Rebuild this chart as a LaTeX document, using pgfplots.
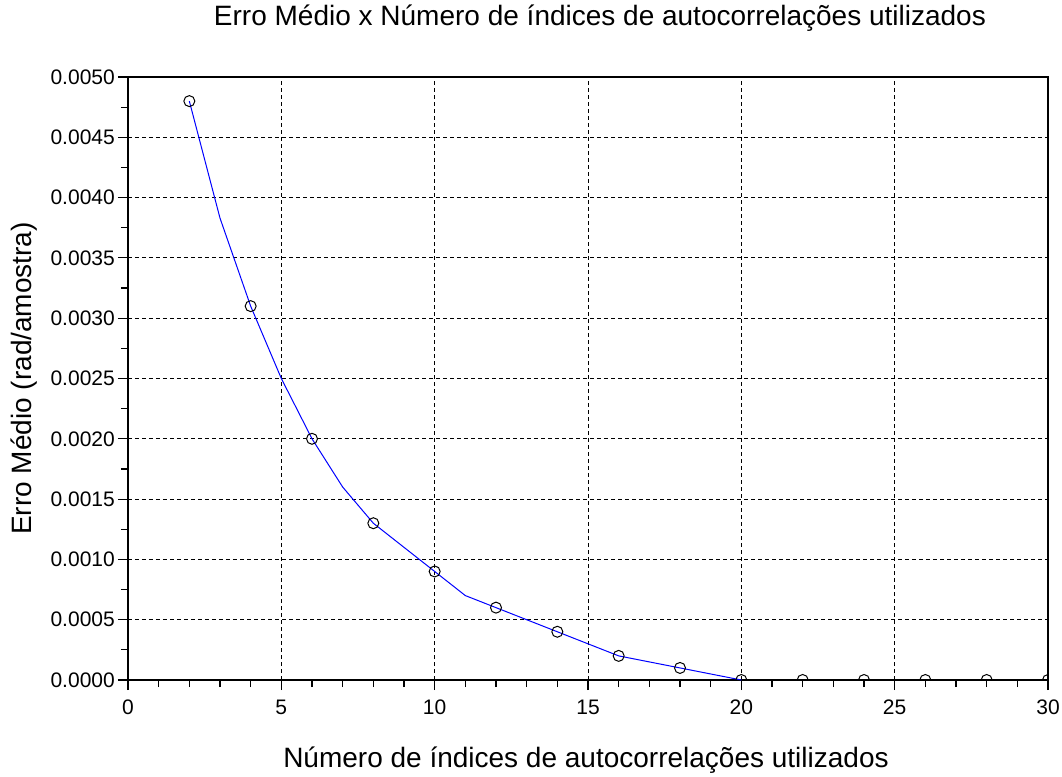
\documentclass[border=0pt]{standalone}
\usepackage{pgfplots}
\pgfplotsset{compat=1.18}
\usepackage{fontspec}
\setmainfont{Liberation Sans}
\begin{document}
\begin{tikzpicture}
\begin{axis}[
  at={(0pt,0pt)}, anchor=south west,
  scale only axis, width=920pt, height=603pt,
  xmin=0, xmax=30, ymin=0, ymax=0.005,
  xtick={0,5,10,15,20,25,30},
  ytick={0,0.0005,0.001,0.0015,0.002,0.0025,0.003,0.0035,0.004,0.0045,0.005},
  minor x tick num=4, minor y tick num=1,
  scaled y ticks=false,
  yticklabel style={/pgf/number format/.cd, fixed, fixed zerofill, precision=4},
  /pgf/number format/assume math mode=true,
  tick align=outside, xtick pos=bottom, ytick pos=left,
  major tick length=10pt, minor tick length=7pt,
  every tick/.style={black, line width=1.2pt},
  tick label style={font=\fontsize{21}{25}\selectfont, inner sep=1.5pt},
  xticklabel shift=8.5pt, yticklabel shift=1.5pt,
  axis line style={black, line width=1.5pt},
  grid=major,
  major grid style={black, line width=0.9pt, dash pattern=on 4pt off 3pt},
  clip marker paths=true,
  title={Erro Médio x Número de índices de autocorrelações utilizados},
  title style={at={(axis description cs:0.513,1.07463)}, anchor=base, font=\fontsize{28}{33}\selectfont},
  xlabel={Número de índices de autocorrelações utilizados},
  xlabel style={at={(axis description cs:0.4978,-0.14428)}, anchor=base, font=\fontsize{28}{33}\selectfont},
  ylabel={Erro Médio (rad/amostra)},
  ylabel style={at={(axis description cs:-0.10543,0.5)}, anchor=base, font=\fontsize{28}{33}\selectfont},
]
\addplot[blue, line width=1pt, no marks] coordinates {
  (2,0.0048) (3,0.00383) (4,0.0031) (5,0.0025) (6,0.0020) (7,0.0016)
  (8,0.0013) (9,0.0011) (10,0.0009) (11,0.0007) (12,0.0006) (13,0.0005)
  (14,0.0004) (15,0.0003) (16,0.0002) (17,0.00015) (18,0.0001) (19,0.00005) (20,0)
};
\addplot[only marks, mark=o, mark size=5.5pt, mark options={black, line width=1pt}] coordinates {
  (2,0.0048) (4,0.0031) (6,0.0020) (8,0.0013) (10,0.0009) (12,0.0006)
  (14,0.0004) (16,0.0002) (18,0.0001) (20,0) (22,0) (24,0) (26,0) (28,0) (30,0)
};
\end{axis}
\path (-128pt,-95pt) rectangle (934pt,680pt);
\end{tikzpicture}
\end{document}
